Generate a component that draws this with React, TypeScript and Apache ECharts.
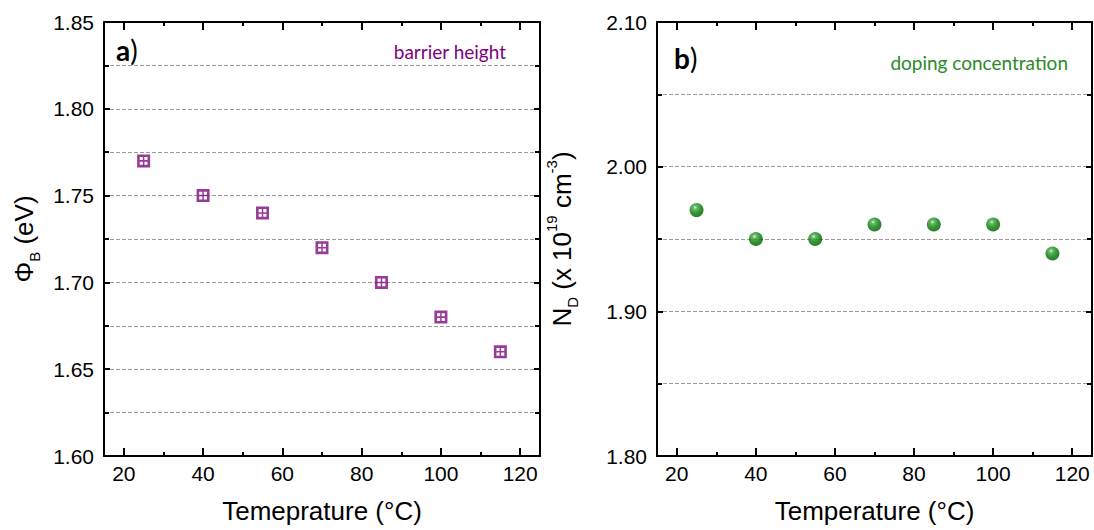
import React, { useEffect, useRef } from "react";
import * as echarts from "echarts";

const temps = [25, 40, 55, 70, 85, 100, 115];
const barrierHeight = [1.77, 1.75, 1.74, 1.72, 1.7, 1.68, 1.66];
const dopingConc = [1.97, 1.95, 1.95, 1.96, 1.96, 1.96, 1.94];
const xMajorTicks = [20, 40, 60, 80, 100, 120];

const ARIAL = "Liberation Sans, Arial, sans-serif";
const CAL = "Lato, Open Sans, sans-serif";

const squareSymbol =
  "path://M0 0H12V12H0Z M2.4 2.4V5.3H5.3V2.4Z M6.7 2.4V5.3H9.6V2.4Z M2.4 6.7V9.6H5.3V6.7Z M6.7 6.7V9.6H9.6V6.7Z";

const black = "#000";
const gridLine = { show: true, lineStyle: { color: "#9a9a9a", type: [4, 2] as any, width: 1 } };

function xAxes(gridIndex: number, name: string) {
  return [
    {
      type: "value",
      gridIndex,
      min: 15,
      max: 125,
      position: "bottom",
      splitLine: { show: false },
      axisLine: { show: true, onZero: false, lineStyle: { color: black, width: 2 } },
      axisTick: { show: true, inside: true, length: 8, customValues: xMajorTicks, lineStyle: { color: black, width: 2 } },
      minorTick: { show: true, splitNumber: 2, length: 4, lineStyle: { color: black, width: 2 } },
      axisLabel: { show: true, customValues: xMajorTicks, fontSize: 21, color: black, fontFamily: ARIAL, margin: 7 },
      name,
      nameLocation: "middle",
      nameGap: 42,
      nameTextStyle: { fontSize: 26, color: black, fontFamily: ARIAL },
    },
    {
      type: "value",
      gridIndex,
      min: 15,
      max: 125,
      position: "top",
      splitLine: { show: false },
      axisLine: { show: true, onZero: false, lineStyle: { color: black, width: 2 } },
      axisTick: { show: true, inside: true, length: 8, customValues: xMajorTicks, lineStyle: { color: black, width: 2 } },
      minorTick: { show: true, splitNumber: 2, length: 4, lineStyle: { color: black, width: 2 } },
      axisLabel: { show: false },
    },
  ];
}

function yAxes(gridIndex: number, min: number, max: number, interval: number, name: string, nameGap: number) {
  const base = {
    type: "value",
    gridIndex,
    min,
    max,
    interval,
    minorTick: { show: true, splitNumber: 2, length: 5, lineStyle: { color: black, width: 2 } },
    axisTick: { show: true, inside: true, length: 6, lineStyle: { color: black, width: 2 } },
    axisLine: { show: true, onZero: false, lineStyle: { color: black, width: 2 } },
  };
  return [
    {
      ...base,
      position: "left",
      axisLabel: {
        show: true,
        fontSize: 21,
        color: black,
        fontFamily: ARIAL,
        margin: 10,
        formatter: (v: number) => v.toFixed(2),
      },
      splitLine: gridLine,
      minorSplitLine: gridLine,
      name,
      nameLocation: "middle",
      nameGap,
      nameTextStyle: {
        fontSize: 26,
        color: black,
        fontFamily: ARIAL,
        lineHeight: 36,
        rich: {
          m: { fontSize: 26, fontFamily: ARIAL, color: black, lineHeight: 36 },
          sub: { fontSize: 15, fontFamily: ARIAL, color: black, lineHeight: 15, verticalAlign: "bottom" },
          sup: { fontSize: 15, fontFamily: ARIAL, color: black, lineHeight: 15, verticalAlign: "top" },
        },
      },
    },
    {
      ...base,
      position: "right",
      axisLabel: { show: false },
      splitLine: { show: false },
    },
  ];
}

export default function App() {
  const ref = useRef<HTMLDivElement>(null);
  useEffect(() => {
    document.body.style.margin = "0";
    const chart = echarts.init(ref.current!, null, { renderer: "svg" });
    const option: any = {
      animation: false,
      backgroundColor: "#fff",
      grid: [
        { left: 104, top: 22, width: 436, height: 434, outerBoundsMode: "none" },
        { left: 657, top: 22, width: 435, height: 434, outerBoundsMode: "none" },
      ],
      xAxis: [...xAxes(0, "Temeprature (°C)"), ...xAxes(1, "Temperature (°C)")],
      yAxis: [
        ...yAxes(0, 1.6, 1.85, 0.05, "{m|Φ}{sub|B}{m| (eV)}", 62),
        ...yAxes(1, 1.8, 2.1, 0.1, "{m|N}{sub|D}{m| (x 10}{sup|19}{m| cm}{sup|-3}{m|)}", 77),
      ],
      series: [
        {
          type: "scatter",
          xAxisIndex: 0,
          yAxisIndex: 0,
          data: temps.map((t, i) => [t, barrierHeight[i]]),
          symbol: squareSymbol,
          symbolSize: 13,
          itemStyle: { color: "#7d0a7d" },
        },
        {
          type: "scatter",
          xAxisIndex: 2,
          yAxisIndex: 2,
          data: temps.map((t, i) => [t, dopingConc[i]]),
          symbol: "circle",
          symbolSize: 14,
          itemStyle: {
            color: {
              type: "radial",
              x: 0.4,
              y: 0.32,
              r: 0.7,
              colorStops: [
                { offset: 0, color: "#e6f5e6" },
                { offset: 0.18, color: "#4aa84a" },
                { offset: 0.55, color: "#008000" },
                { offset: 1, color: "#005400" },
              ],
            },
          },
        },
      ],
      graphic: [
        {
          type: "text",
          x: 116,
          y: 36,
          style: {
            text: "{b|a}{n|)}",
            rich: {
              b: { fontFamily: CAL, fontWeight: "bold", fontSize: 28, fill: black },
              n: { fontFamily: CAL, fontSize: 28, fill: black },
            },
          },
        },
        {
          type: "text",
          x: 506,
          y: 51,
          style: { text: "barrier height", fill: "#800080", fontFamily: CAL, fontSize: 19, align: "right", verticalAlign: "middle" },
        },
        {
          type: "text",
          x: 674,
          y: 44,
          style: {
            text: "{b|b}{n|)}",
            rich: {
              b: { fontFamily: CAL, fontWeight: "bold", fontSize: 28, fill: black },
              n: { fontFamily: CAL, fontSize: 28, fill: black },
            },
          },
        },
        {
          type: "text",
          x: 1068,
          y: 62,
          style: { text: "doping concentration", fill: "#2a8a2a", fontFamily: CAL, fontSize: 19, align: "right", verticalAlign: "middle" },
        },
      ],
    };
    chart.setOption(option);
    return () => chart.dispose();
  }, []);
  return <div ref={ref} style={{ width: 1094, height: 530 }} />;
}
